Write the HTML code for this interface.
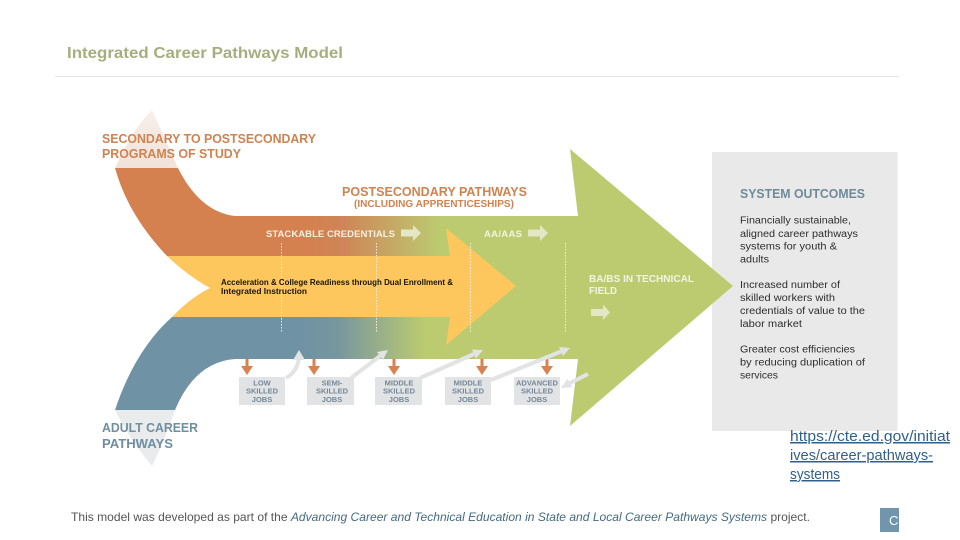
<!DOCTYPE html>
<html><head><meta charset="utf-8"><style>
html,body{margin:0;padding:0;background:#fff}
svg{display:block}
text{font-family:"Liberation Sans",sans-serif}
</style></head><body>
<svg width="960" height="540" viewBox="0 0 960 540" xmlns="http://www.w3.org/2000/svg">
<defs>
<linearGradient id="og" gradientUnits="userSpaceOnUse" x1="310" y1="0" x2="440" y2="0"><stop offset="0" stop-color="#d4814f"/><stop offset="0.25" stop-color="#cf8558"/><stop offset="1" stop-color="#bccb70"/></linearGradient>
<linearGradient id="bg" gradientUnits="userSpaceOnUse" x1="300" y1="0" x2="425" y2="0"><stop offset="0" stop-color="#6f93a4"/><stop offset="0.3" stop-color="#77969f"/><stop offset="1" stop-color="#bccb70"/></linearGradient>
<linearGradient id="lo" gradientUnits="userSpaceOnUse" x1="0" y1="110" x2="0" y2="168"><stop offset="0" stop-color="#f7efe9"/><stop offset="1" stop-color="#f1e3da"/></linearGradient>
</defs>
<rect width="960" height="540" fill="#fff"/>
<text x="67" y="58" font-size="16" font-weight="bold" fill="#a8ad80" textLength="276" lengthAdjust="spacingAndGlyphs">Integrated Career Pathways Model</text>
<rect x="55" y="76" width="844" height="1" fill="#e3e3e3"/>

<rect x="712" y="152" width="185.500" height="279" fill="#e9e9e9"/>

<path d="M152 110 L178 168 L115 168 Q132 130 152 110Z" fill="url(#lo)"/>
<path d="M115 410 L175 410 Q165 440 152 466 Q130 440 115 410Z" fill="#e9ebec"/>

<path d="M570 149 L733 286 L570 426 L578 359 L430 359 L430 216 L578 216Z" fill="#bccb70"/>
<path d="M115 168 L178 168 Q200 212 235 216 L445 216 L445 256 L167 256 Q128 215 115 168Z" fill="url(#og)"/>
<path d="M172 317 L430 317 L430 359 L235 359 Q195 362 175 410 L115 410 Q135 350 172 317Z" fill="url(#bg)"/>
<path d="M167 256 L450 256 L446 228 L516 286 L446 345 L450 317 L172 317 Q190 298 210 288 Q188 276 167 256Z" fill="#fdc75e"/>

<g stroke="#f1efdd" stroke-width="1" stroke-dasharray="1.5 1.5" fill="none">
<path d="M281.500 243V333"/><path d="M376.500 243V333"/><path d="M470.500 243V333"/><path d="M565.500 243V333"/>
</g>

<text x="102" y="143" font-size="12.500" font-weight="bold" fill="#d0824f" textLength="214" lengthAdjust="spacingAndGlyphs">SECONDARY TO POSTSECONDARY</text>
<text x="102" y="158" font-size="12.500" font-weight="bold" fill="#d0824f" textLength="139" lengthAdjust="spacingAndGlyphs">PROGRAMS OF STUDY</text>
<text x="342" y="196" font-size="13" font-weight="bold" fill="#d0824f" textLength="185" lengthAdjust="spacingAndGlyphs">POSTSECONDARY PATHWAYS</text>
<text x="354" y="207" font-size="10.500" font-weight="bold" fill="#d0824f" textLength="160" lengthAdjust="spacingAndGlyphs">(INCLUDING APPRENTICESHIPS)</text>
<text x="266" y="237" font-size="9.500" font-weight="bold" fill="#f6efe4" textLength="129" lengthAdjust="spacing">STACKABLE CREDENTIALS</text>
<text x="484" y="237" font-size="9.500" font-weight="bold" fill="#f2f4e2" textLength="38" lengthAdjust="spacing">AA/AAS</text>
<text x="589" y="282" font-size="10.500" font-weight="bold" fill="#f2f4e2" textLength="105" lengthAdjust="spacingAndGlyphs">BA/BS IN TECHNICAL</text>
<text x="589" y="294" font-size="10.500" font-weight="bold" fill="#f2f4e2" textLength="28" lengthAdjust="spacingAndGlyphs">FIELD</text>
<g fill="#e3e7c6">
<path d="M401 229.500H413V225L421 233 413 241V236.500H401Z"/>
<path d="M528 229.500H540V225L548 233 540 241V236.500H528Z"/>
<path d="M591 309H603V304.500L610 312.500 603 320V316H591Z"/>
</g>
<text x="221" y="285" font-size="8" font-weight="bold" fill="#1a1408" textLength="232" lengthAdjust="spacingAndGlyphs">Acceleration &amp; College Readiness through Dual Enrollment &amp;</text>
<text x="221" y="294" font-size="8" font-weight="bold" fill="#1a1408" textLength="86" lengthAdjust="spacingAndGlyphs">Integrated Instruction</text>
<text x="102" y="432" font-size="13" font-weight="bold" fill="#6f8fa0" textLength="96" lengthAdjust="spacingAndGlyphs">ADULT CAREER</text>
<text x="102" y="448" font-size="13" font-weight="bold" fill="#6f8fa0" textLength="71" lengthAdjust="spacingAndGlyphs">PATHWAYS</text>

<g fill="#e2e3e4">
<rect x="239" y="377" width="46" height="28"/>
<rect x="307" y="377" width="47" height="28"/>
<rect x="375" y="377" width="47" height="28"/>
<rect x="445" y="377" width="46" height="28"/>
<rect x="514" y="377" width="46" height="28"/>
</g>
<g font-size="7.500" font-weight="bold" fill="#73889a" text-anchor="middle">
<text x="262" y="385.500">LOW</text><text x="262" y="393.500">SKILLED</text><text x="262" y="402">JOBS</text>
<text x="332" y="385.500">SEMI-</text><text x="332" y="393.500">SKILLED</text><text x="332" y="402">JOBS</text>
<text x="399" y="385.500">MIDDLE</text><text x="399" y="393.500">SKILLED</text><text x="399" y="402">JOBS</text>
<text x="468" y="385.500">MIDDLE</text><text x="468" y="393.500">SKILLED</text><text x="468" y="402">JOBS</text>
<text x="537" y="385.500">ADVANCED</text><text x="537" y="393.500">SKILLED</text><text x="537" y="402">JOBS</text>
</g>
<g fill="#d8824f">
<path d="M245.500 359h3v7h4.500l-6 9-6-9h4.500Z"/>
<path d="M312.500 359h3v7h4.500l-6 9-6-9h4.500Z"/>
<path d="M392.500 359h3v7h4.500l-6 9-6-9h4.500Z"/>
<path d="M480.500 359h3v7h4.500l-6 9-6-9h4.500Z"/>
<path d="M545.500 359h3v7h4.500l-6 9-6-9h4.500Z"/>
</g>
<g stroke="#e2e3e4" stroke-width="4" fill="none">
<path d="M286 378 Q297 372 299 358"/>
<path d="M351 378 L380 356"/>
<path d="M420 378 L474 354"/>
<path d="M491 380 L561 351.500"/>
<path d="M588 374 L570 383"/>
</g>
<g fill="#e2e3e4">
<path d="M299 350 L305 360 L293 360Z"/>
<path d="M388 350 L383 360 L377 352Z"/>
<path d="M483 350 L476 358.500 L472 349.500Z"/>
<path d="M570 348 L563 356 L559 347Z"/>
<path d="M561 388 L572.400 387.300 L567.600 378.700Z"/>
</g>

<text x="740" y="198" font-size="12.500" font-weight="bold" fill="#6f8b9a" textLength="125" lengthAdjust="spacingAndGlyphs">SYSTEM OUTCOMES</text>
<g font-size="10" fill="#2e2e2e">
<text x="740" y="223.500" textLength="111" lengthAdjust="spacingAndGlyphs">Financially sustainable,</text>
<text x="740" y="237" textLength="118" lengthAdjust="spacingAndGlyphs">aligned career pathways</text>
<text x="740" y="249.500" textLength="97" lengthAdjust="spacingAndGlyphs">systems for youth &amp;</text>
<text x="740" y="262.500" textLength="29" lengthAdjust="spacingAndGlyphs">adults</text>
<text x="740" y="288" textLength="100" lengthAdjust="spacingAndGlyphs">Increased number of</text>
<text x="740" y="301" textLength="95" lengthAdjust="spacingAndGlyphs">skilled workers with</text>
<text x="740" y="314" textLength="125" lengthAdjust="spacingAndGlyphs">credentials of value to the</text>
<text x="740" y="327" textLength="62" lengthAdjust="spacingAndGlyphs">labor market</text>
<text x="740" y="352.500" textLength="115" lengthAdjust="spacingAndGlyphs">Greater cost efficiencies</text>
<text x="740" y="365.500" textLength="125" lengthAdjust="spacingAndGlyphs">by reducing duplication of</text>
<text x="740" y="378.500" textLength="38" lengthAdjust="spacingAndGlyphs">services</text>
</g>
<g font-size="15" fill="#2f5f8c" text-decoration="underline">
<text x="790" y="441" textLength="160" lengthAdjust="spacingAndGlyphs">https://cte.ed.gov/initiat</text>
<text x="790" y="460" textLength="143" lengthAdjust="spacingAndGlyphs">ives/career-pathways-</text>
<text x="790" y="479" textLength="50" lengthAdjust="spacingAndGlyphs">systems</text>
</g>
<text x="71" y="521" font-size="12" fill="#555" textLength="739" lengthAdjust="spacingAndGlyphs">This model was developed as part of the <tspan font-style="italic" fill="#456a80">Advancing Career and Technical Education in State and Local Career Pathways Systems</tspan> project.</text>
<rect x="880" y="508" width="19" height="24" fill="#7095ad"/>
<svg x="880" y="508" width="19" height="24"><text x="9" y="17" font-size="13" fill="#fff">CI</text></svg>
</svg>
</body></html>
